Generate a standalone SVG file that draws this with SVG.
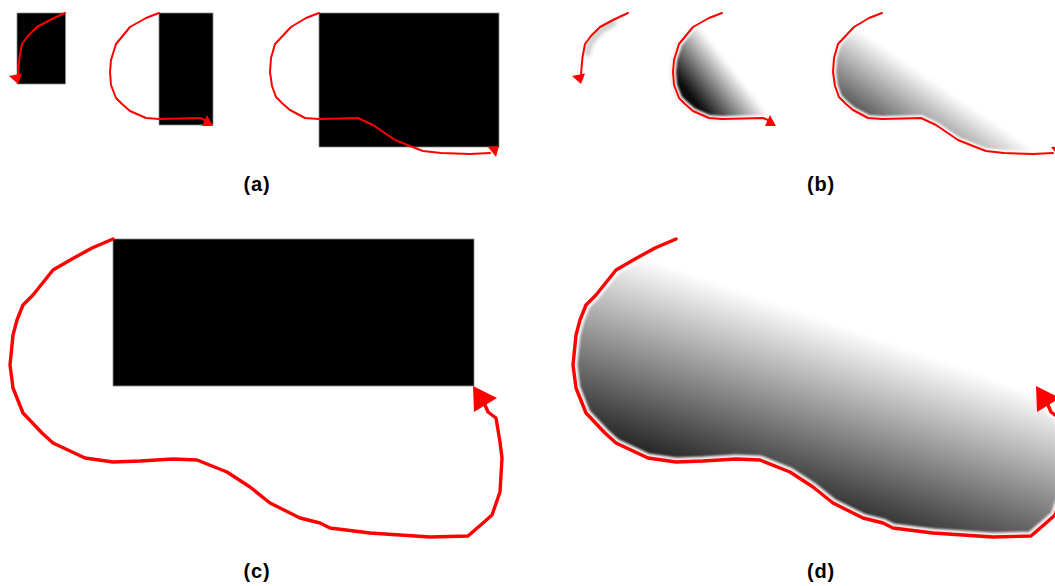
<svg xmlns="http://www.w3.org/2000/svg" xmlns:xlink="http://www.w3.org/1999/xlink" width="1055" height="586" viewBox="0 0 1055 586">
<style>
.box{fill:#000;stroke:#8a8a8a;stroke-width:0.8}
.thin{fill:none;stroke:#ff0000;stroke-width:2;stroke-linejoin:round;stroke-linecap:round}
.thick{fill:none;stroke:#ff0000;stroke-width:3.4;stroke-linejoin:round;stroke-linecap:round}
.rimthin{fill:none;stroke:#ffffff;stroke-width:6;stroke-linejoin:round;opacity:0.9}
.rimthick{fill:none;stroke:#ffffff;stroke-width:9;stroke-linejoin:round;opacity:0.9}
.head{fill:#ff0000}
.lbl{font-family:"Liberation Sans",Arial,sans-serif;font-weight:bold;font-size:20px;letter-spacing:0.8px;fill:#000;text-anchor:middle}
</style>
<defs>
<filter id="blur2" x="-10%" y="-10%" width="120%" height="120%"><feGaussianBlur stdDeviation="2"/></filter>
<filter id="blur1" x="-10%" y="-10%" width="120%" height="120%"><feGaussianBlur stdDeviation="1.2"/></filter>
<path id="c1" d="M65,13 L52,19 L37,27 L28,36 L22,44 L19.5,57 L18.5,68 L18,76"/>
<path id="c2" d="M159,13 L146,18 L130,27 L116,44 L111,60 L110,72 L111,85 L116,98 L122,104 L130,111 L146,118 L159,119 L180,118.5 L200,118 L205,120"/>
<path id="c3" d="M319,13 L306,18 L291,27 L275,44 L271,58 L270,72 L272,86 L276,97 L283,104 L290,110 L305,118 L319,119 L340,118.5 L358,118 L373,125 L395,140 L410,146 L423,151 L441,153 L470,154 L490,153"/>
<path id="cc" d="M113,239 L92,248 L72,259 L53,270 L45,280 L33,295 L23,305 L17,320 L13,335 L12,345 L10,365 L13,388 L23,413 L42,433 L53,443 L85,458 L113,462 L140,461 L173,459 L197,460 L227,472 L250,487 L270,503 L300,518 L320,523 L330,528 L370,533 L430,537 L468,536 L483,523 L492,515 L500,492 L502,458 L500,442 L496,418 L488,412 L485,405"/>
<polygon id="h1" points="9,76 22,73.5 18,84"/>
<polygon id="h2" points="202,126 207,115 213,126"/>
<polygon id="h3" points="488,147 499,146 496,157"/>
<polygon id="hc" points="473,386 497,398 474,412"/>
<linearGradient id="g2" gradientUnits="userSpaceOnUse" x1="117" y1="80" x2="155" y2="50">
<stop offset="0" stop-color="#111"/><stop offset="1" stop-color="#fff"/>
</linearGradient>
<linearGradient id="g3" gradientUnits="userSpaceOnUse" x1="272" y1="110" x2="317" y2="44">
<stop offset="0" stop-color="#3a3a3a"/><stop offset="1" stop-color="#fff"/>
</linearGradient>
<linearGradient id="gd" gradientUnits="userSpaceOnUse" x1="137" y1="480" x2="200" y2="298">
<stop offset="0" stop-color="#1c1c1c"/><stop offset="1" stop-color="#fff"/>
</linearGradient>
</defs>
<rect width="1055" height="586" fill="#fff"/>

<g id="panel-a">
<rect id="a-box1" class="box" x="17" y="13" width="48.5" height="71"/>
<rect id="a-box2" class="box" x="159" y="13" width="54" height="112"/>
<rect id="a-box3" class="box" x="319" y="13" width="180" height="134"/>
</g>

<g id="panel-c">
<rect id="c-box" class="box" x="113" y="239" width="361" height="147"/>
</g>

<g id="panel-b" transform="translate(563,0)">
<path id="b-shade1" d="M50,21 L37,28 L28,37 L23,45 L21,55" transform="translate(3,1)" fill="none" stroke="#c4c4c4" stroke-width="5" filter="url(#blur2)"/>
<path id="b-blob2" d="M159,13 L146,18 L130,27 L116,44 L111,60 L110,72 L111,85 L116,98 L122,104 L130,111 L146,118 L159,119 L180,118.5 L200,118 L205,120 Z" fill="url(#g2)" filter="url(#blur2)"/>
<path id="b-blob3" d="M319,13 L306,18 L291,27 L275,44 L271,58 L270,72 L272,86 L276,97 L283,104 L290,110 L305,118 L319,119 L340,118.5 L358,118 L373,125 L395,140 L410,146 L423,151 L441,153 L470,154 L490,153 Z" fill="url(#g3)" filter="url(#blur2)"/>
<use xlink:href="#c2" class="rimthin" filter="url(#blur1)"/>
<use xlink:href="#c3" class="rimthin" filter="url(#blur1)"/>
</g>

<g id="panel-d" transform="translate(563,0)">
<path id="d-blob" d="M113,239 L92,248 L72,259 L53,270 L45,280 L33,295 L23,305 L17,320 L13,335 L12,345 L10,365 L13,388 L23,413 L42,433 L53,443 L85,458 L113,462 L140,461 L173,459 L197,460 L227,472 L250,487 L270,503 L300,518 L320,523 L330,528 L370,533 L430,537 L468,536 L483,523 L492,515 L500,492 L502,458 L500,442 L496,418 L488,412 L485,405 Z" fill="url(#gd)" filter="url(#blur2)"/>
<use xlink:href="#cc" class="rimthick" filter="url(#blur1)"/>
</g>

<g id="connectors">
<use xlink:href="#c1" class="thin"/><use xlink:href="#h1" class="head"/>
<use xlink:href="#c2" class="thin"/><use xlink:href="#h2" class="head"/>
<use xlink:href="#c3" class="thin"/><use xlink:href="#h3" class="head"/>
<use xlink:href="#cc" class="thick"/><use xlink:href="#hc" class="head"/>
<g transform="translate(563,0)">
<use xlink:href="#c1" class="thin"/><use xlink:href="#h1" class="head"/>
<use xlink:href="#c2" class="thin"/><use xlink:href="#h2" class="head"/>
<use xlink:href="#c3" class="thin"/><use xlink:href="#h3" class="head"/>
<use xlink:href="#cc" class="thick"/><use xlink:href="#hc" class="head"/>
</g>
</g>

<g id="labels">
<text class="lbl" x="257" y="191">(a)</text>
<text class="lbl" x="821" y="191">(b)</text>
<text class="lbl" x="257" y="578">(c)</text>
<text class="lbl" x="821" y="578">(d)</text>
</g>
</svg>
